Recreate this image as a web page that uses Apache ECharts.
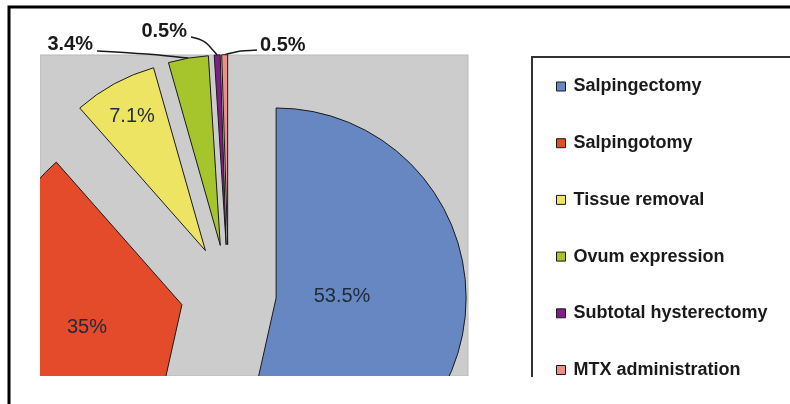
<!DOCTYPE html>
<html><head><meta charset="utf-8">
<script src="https://cdn.jsdelivr.net/npm/echarts@6/dist/echarts.min.js"></script>
<style>html,body{margin:0;padding:0;background:#fff}#c{width:790px;height:404px}</style>
</head><body><div id="c"></div>
<script>
// ---- data ----
const categories = ['Salpingectomy', 'Salpingotomy', 'Tissue removal', 'Ovum expression', 'Subtotal hysterectomy', 'MTX administration'];
const values = [53.5, 35, 7.1, 3.4, 0.5, 0.5];
const labelTexts = ['53.5%', '35%', '7.1%', '3.4%', '0.5%', '0.5%'];

// ---- styles (kept apart from data) ----
const colors = ['#6787c2', '#e44b2b', '#eee463', '#a6c52c', '#7e1f86', '#ea8f89'];
const insideLabel = [true, true, true, false, false, false];
// label anchor positions (text placement only)
const labelPos = [
  {x: 342, y: 296, align: 'center'},
  {x: 87, y: 327, align: 'center'},
  {x: 132, y: 116, align: 'center'},
  {x: 93, y: 44, align: 'right', bend: [150, 54], end: [97, 51]},
  {x: 187, y: 31, align: 'right', bend: [204, 40], end: [191, 37]},
  {x: 260, y: 45, align: 'left', bend: [238, 51], end: [257, 50]}
];
const pieCenter = [228.4, 292.7];
const pieRadius = 190;
const explode = 48;

const chart = echarts.init(document.getElementById('c'), null, {renderer: 'canvas'});

const total = values.reduce((a, b) => a + b, 0);
let cum = 0;
const series = values.map((v, i) => {
  const mid = (cum + v / 2) / total * 2 * Math.PI; // clockwise from 12 o'clock
  cum += v;
  const c = [pieCenter[0] + explode * Math.sin(mid), pieCenter[1] - explode * Math.cos(mid)];
  const edge = [c[0] + pieRadius * Math.sin(mid), c[1] - pieRadius * Math.cos(mid)];
  const lp = labelPos[i];
  return {
    type: 'pie',
    name: categories[i],
    center: c,
    radius: pieRadius,
    startAngle: 90,
    clockwise: true,
    avoidLabelOverlap: false,
    silent: true,
    legendHoverLink: false,
    z: 2,
    data: categories.map((name, j) => (j === i ? {
      name: name,
      value: values[j],
      itemStyle: {color: colors[j], borderColor: '#1a1a1a', borderWidth: 1},
      label: insideLabel[j]
        ? {show: true, position: 'inside', fontFamily: 'Liberation Sans', fontSize: 20, fontWeight: 'normal', color: '#1f2a3a', formatter: () => labelTexts[j]}
        : {show: true, position: 'outside', fontFamily: 'Liberation Sans', fontSize: 20, fontWeight: 'bold', color: '#1a1a1a', formatter: () => labelTexts[j]},
      labelLine: {show: !insideLabel[j], length: 6, length2: 30, smooth: 0.3, lineStyle: {color: '#1a1a1a', width: 1.5}}
    } : {
      name: name,
      value: values[j],
      itemStyle: {color: 'rgba(0,0,0,0)', borderWidth: 0},
      label: {show: false},
      labelLine: {show: false}
    })),
    labelLayout: function (params) {
      if (insideLabel[i]) {
        return {x: lp.x, y: lp.y, align: 'center', verticalAlign: 'middle'};
      }
      return {
        x: lp.x, y: lp.y, align: lp.align, verticalAlign: 'middle',
        labelLinePoints: [edge, lp.bend, lp.end]
      };
    }
  };
});

const option = {
  animation: false,
  backgroundColor: '#ffffff',
  graphic: [
    {type: 'rect', z: -10, shape: {x: 40, y: 55, width: 428, height: 321}, style: {fill: '#cccccc', stroke: '#b8b8b8', lineWidth: 1}},
    {type: 'rect', z: 100, shape: {x: 0, y: 55, width: 40, height: 349}, style: {fill: '#ffffff'}},
    {type: 'rect', z: 100, shape: {x: 0, y: 376, width: 531, height: 28}, style: {fill: '#ffffff'}},
    {type: 'polyline', z: 101, shape: {points: [[9, 404], [9, 7], [790, 7]]}, style: {stroke: '#000', lineWidth: 3, fill: null}},
    {type: 'polyline', z: 101, shape: {points: [[532, 377], [532, 57], [790, 57]]}, style: {stroke: '#333', lineWidth: 2, fill: null}}
  ],
  legend: {
    orient: 'vertical',
    left: 551,
    top: 71.5,
    itemWidth: 9,
    itemHeight: 9,
    itemGap: 36.7,
    icon: 'rect',
    selectedMode: false,
    data: categories.map((name, i) => ({name: name, itemStyle: {color: colors[i], borderColor: '#1a1a1a', borderWidth: 1}})),
    textStyle: {fontFamily: 'Liberation Sans', fontSize: 18, fontWeight: 'bold', color: '#1a1a1a', lineHeight: 20, padding: [0, 0, 0, 3]}
  },
  series: series
};
chart.setOption(option);
</script>
</body></html>
